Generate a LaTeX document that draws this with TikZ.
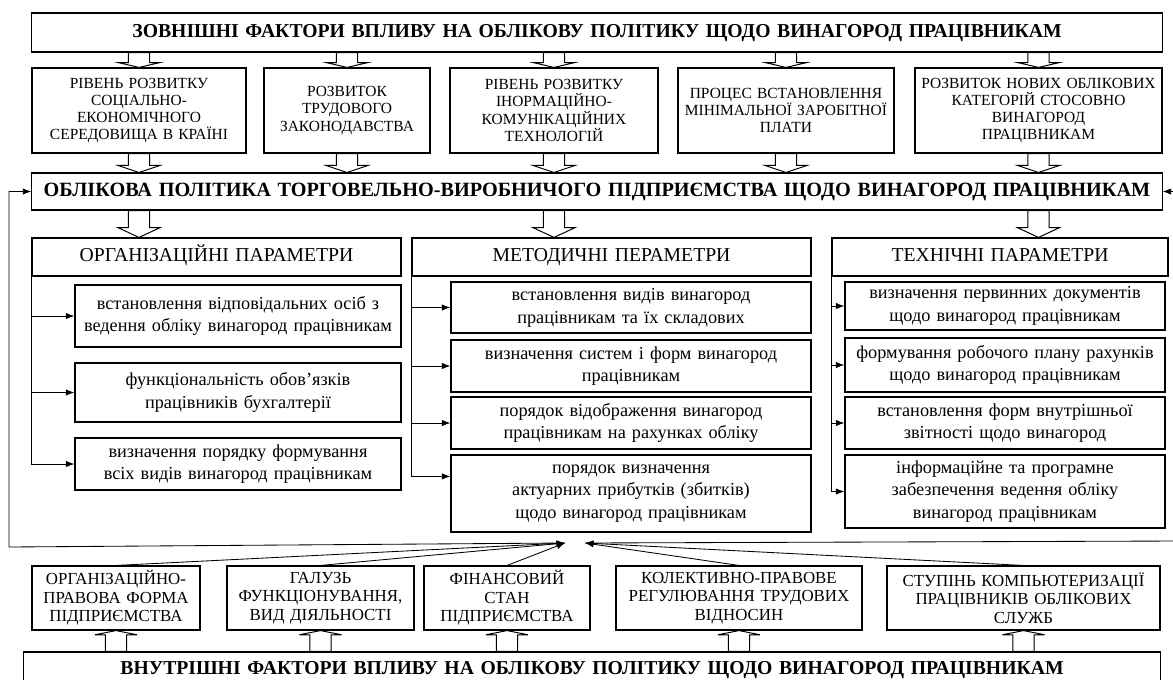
\documentclass[tikz,border=0pt]{standalone}
\usepackage{fontspec}
\setmainfont{Liberation Serif}
\usetikzlibrary{positioning,calc,arrows.meta}
\tikzstyle{plan} = [x = 0.025cm, y = -0.025cm]
\tikzstyle{boxStyle} = [draw, line width=0.8pt, align=center, inner sep=0pt]
\tikzstyle{titleText} = [font=\fontsize{14}{16}\selectfont\bfseries, text height=9.5pt, text depth=2.5pt]
\tikzstyle{mainText} = [font=\fontsize{14.4}{16}\selectfont\bfseries, text height=9.5pt, text depth=2.5pt]
\tikzstyle{factorText} = [font=\fontsize{11}{12.3}\selectfont]
\tikzstyle{innerFactorText} = [font=\fontsize{12}{13.2}\selectfont]
\tikzstyle{headText} = [font=\fontsize{14}{16}\selectfont, text height=9.5pt, text depth=2.5pt]
\tikzstyle{itemText} = [font=\fontsize{13}{16.2}\selectfont]
\tikzstyle{linkLine} = [line width=0.6pt, -{Latex[length=6pt,width=4.5pt]}]
\tikzstyle{blockArrowStyle} = [draw=black, fill=white, line width=0.7pt]
\newcommand{\pxpt}{0.71132}
\newcommand{\shaftHalf}{7.5pt}
\newcommand{\headHalf}{15pt}
\newcommand{\boxAt}[7]{%
  \pgfmathsetmacro{\boxW}{(#4-#2)*\pxpt}%
  \pgfmathsetmacro{\boxH}{(#5-#3)*\pxpt}%
  \pgfmathsetmacro{\boxT}{(#4-#2)*\pxpt-2}%
  \node [boxStyle, #6, minimum width=\boxW pt, minimum height=\boxH pt, text width=\boxT pt] (#1) at ({(#2+#4)/2}, {(#3+#5)/2}) {#7};}
\newcommand{\arrowDown}[3]{\filldraw [blockArrowStyle] let \p1 = #1, \p2 = #2 in ({\x2-\shaftHalf}, \y1) -- ({\x2+\shaftHalf}, \y1) -- ({\x2+\shaftHalf}, {\y2+#3}) -- ({\x2+\headHalf}, {\y2+#3}) -- (\x2, \y2) -- ({\x2-\headHalf}, {\y2+#3}) -- ({\x2-\shaftHalf}, {\y2+#3}) -- cycle;}
\newcommand{\arrowUp}[3]{\filldraw [blockArrowStyle] let \p1 = #1, \p2 = #2 in ({\x2-\shaftHalf}, \y1) -- ({\x2+\shaftHalf}, \y1) -- ({\x2+\shaftHalf}, {\y2-#3}) -- ({\x2+\headHalf}, {\y2-#3}) -- (\x2, \y2) -- ({\x2-\headHalf}, {\y2-#3}) -- ({\x2-\shaftHalf}, {\y2-#3}) -- cycle;}

\begin{document}
\begin{tikzpicture}[plan]
  \useasboundingbox (0,0) rectangle (1173,679);

  \boxAt{top}{32}{13}{1162}{52}{titleText}{ЗОВНІШНІ ФАКТОРИ ВПЛИВУ НА ОБЛІКОВУ ПОЛІТИКУ ЩОДО ВИНАГОРОД ПРАЦІВНИКАМ}
  \boxAt{f1}{32}{68}{246}{153}{factorText}{РІВЕНЬ РОЗВИТКУ\\ СОЦІАЛЬНО-\\ ЕКОНОМІЧНОГО\\ СЕРЕДОВИЩА В КРАЇНІ}
  \boxAt{f2}{264}{68}{430}{153}{factorText}{РОЗВИТОК\\ ТРУДОВОГО\\ ЗАКОНОДАВСТВА}
  \boxAt{f3}{450}{68}{658}{153}{factorText}{РІВЕНЬ РОЗВИТКУ\\ ІНОРМАЦІЙНО-\\ КОМУНІКАЦІЙНИХ\\ ТЕХНОЛОГІЙ}
  \boxAt{f4}{678}{68}{894}{153}{factorText}{ПРОЦЕС ВСТАНОВЛЕННЯ\\ МІНІМАЛЬНОЇ ЗАРОБІТНОЇ\\ ПЛАТИ}
  \boxAt{f5}{915}{68}{1162}{153}{factorText}{РОЗВИТОК НОВИХ ОБЛІКОВИХ\\ КАТЕГОРІЙ СТОСОВНО\\ ВИНАГОРОД\\ ПРАЦІВНИКАМ}
  \boxAt{main}{32}{173}{1162}{210}{mainText}{ОБЛІКОВА ПОЛІТИКА ТОРГОВЕЛЬНО-ВИРОБНИЧОГО ПІДПРИЄМСТВА ЩОДО ВИНАГОРОД ПРАЦІВНИКАМ}

  \boxAt{org}{32}{238}{401}{276}{headText}{ОРГАНІЗАЦІЙНІ ПАРАМЕТРИ}
  \boxAt{met}{412}{238}{811}{276}{headText}{МЕТОДИЧНІ ПЕРАМЕТРИ}
  \boxAt{tech}{832}{238}{1168}{276}{headText}{ТЕХНІЧНІ ПАРАМЕТРИ}

  \boxAt{os1}{75}{285}{401}{347}{itemText}{встановлення відповідальних осіб з\\ ведення обліку винагород працівникам}
  \boxAt{os2}{75}{363}{401}{422}{itemText}{функціональність обов’язків\\ працівників бухгалтерії}
  \boxAt{os3}{75}{438}{401}{490}{itemText}{визначення порядку формування\\ всіх видів винагород працівникам}

  \boxAt{ms1}{451}{282}{811}{333}{itemText}{встановлення видів винагород\\ працівникам та їх складових}
  \boxAt{ms2}{451}{340}{811}{392}{itemText}{визначення систем і форм винагород\\ працівникам}
  \boxAt{ms3}{451}{397}{811}{449}{itemText}{порядок відображення винагород\\ працівникам на рахунках обліку}
  \boxAt{ms4}{451}{455}{811}{532}{itemText}{порядок визначення\\ актуарних прибутків (збитків)\\ щодо винагород працівникам}

  \boxAt{ts1}{845}{282}{1165}{330}{itemText}{визначення первинних документів\\ щодо винагород працівникам}
  \boxAt{ts2}{845}{338}{1165}{392}{itemText}{формування робочого плану рахунків\\ щодо винагород працівникам}
  \boxAt{ts3}{845}{397}{1165}{449}{itemText}{встановлення форм внутрішньої\\ звітності щодо винагород}
  \boxAt{ts4}{845}{455}{1165}{528}{itemText}{інформаційне та програмне\\ забезпечення ведення обліку\\ винагород працівникам}

  \boxAt{b1}{32}{566}{200}{630}{innerFactorText}{ОРГАНІЗАЦІЙНО-\\ ПРАВОВА ФОРМА\\ ПІДПРИЄМСТВА}
  \boxAt{b2}{227}{566}{414}{630}{innerFactorText}{ГАЛУЗЬ\\ ФУНКЦІОНУВАННЯ,\\ ВИД ДІЯЛЬНОСТІ}
  \boxAt{b3}{424}{566}{590}{630}{innerFactorText}{ФІНАНСОВИЙ\\ СТАН\\ ПІДПРИЄМСТВА}
  \boxAt{b4}{616}{566}{862}{630}{innerFactorText}{КОЛЕКТИВНО-ПРАВОВЕ\\ РЕГУЛЮВАННЯ ТРУДОВИХ\\ ВІДНОСИН}
  \boxAt{b5}{887}{566}{1160}{630}{innerFactorText}{СТУПІНЬ КОМПЬЮТЕРИЗАЦІЇ\\ ПРАЦІВНИКІВ ОБЛІКОВИХ\\ СЛУЖБ}
  \boxAt{inner}{24}{652}{1160}{688}{titleText}{ВНУТРІШНІ ФАКТОРИ ВПЛИВУ НА ОБЛІКОВУ ПОЛІТИКУ ЩОДО ВИНАГОРОД ПРАЦІВНИКАМ}

  \foreach \f in {f1,f2,f3,f4,f5} {
    \arrowDown{(top.south -| \f.north)}{(\f.north)}{3.5pt}
    \arrowDown{(\f.south)}{(\f.south |- main.north)}{5pt}
  }
  \arrowDown{(f1.south |- main.south)}{(f1.south |- org.north)}{7pt}
  \arrowDown{(f3.south |- main.south)}{(f3.south |- met.north)}{7pt}
  \arrowDown{(f5.south |- main.south)}{(f5.south |- tech.north)}{7pt}
  \foreach \b in {b1,b2,b3,b4,b5} {
    \arrowUp{(\b.south |- inner.north)}{(\b.south)}{3pt}
  }

  \draw [linkLine] (org.south west) |- (os3.west);
  \foreach \s in {os1,os2} {
    \draw [linkLine] (org.south west |- \s.west) -- (\s.west);
  }
  \coordinate (ms4in) at ($(ms4.north west)+(0,22)$);
  \draw [linkLine] (met.south west) |- (ms4in);
  \foreach \s in {ms1,ms2,ms3} {
    \draw [linkLine] (met.south west |- \s.west) -- (\s.west);
  }
  \draw [linkLine] (tech.south west) |- (ts4.west);
  \foreach \s in {ts1,ts2,ts3} {
    \draw [linkLine] (tech.south west |- \s.west) -- (\s.west);
  }

  \coordinate (convLeft) at (565,543);
  \coordinate (convRight) at (585,543);
  \coordinate (leftTurn) at (9,547);
  \coordinate (rightTurn) at (1180,541);
  \draw [linkLine] (convLeft) -- (leftTurn) |- (main.west);
  \draw [linkLine] (convRight) -- (rightTurn) |- (main.east);
  \foreach \b in {b1,b2,b3} {
    \draw [linkLine] (\b.north) -- (convLeft);
  }
  \foreach \b in {b4,b5} {
    \draw [linkLine] (\b.north) -- (convRight);
  }
\end{tikzpicture}
\end{document}
